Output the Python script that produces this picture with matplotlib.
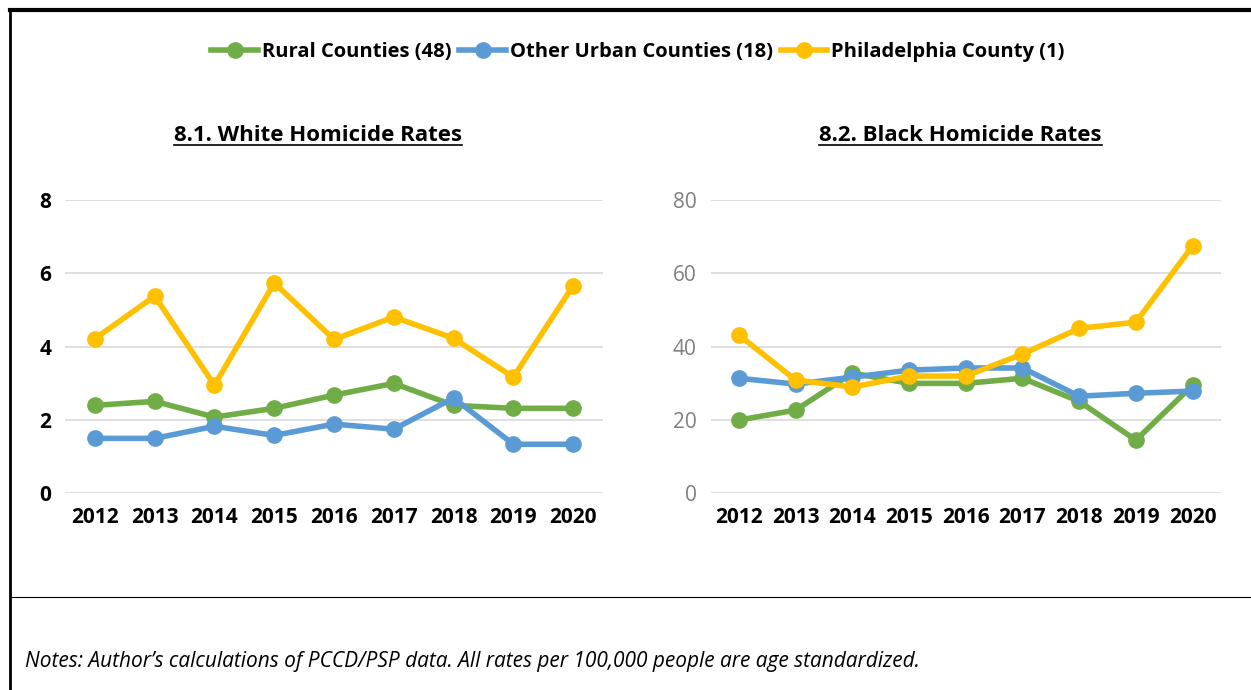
import matplotlib.pyplot as plt
from matplotlib.lines import Line2D

years = ["2012", "2013", "2014", "2015", "2016", "2017", "2018", "2019", "2020"]
series_names = ["Rural Counties (48)", "Other Urban Counties (18)", "Philadelphia County (1)"]
colors = ["#70AD47", "#5B9BD5", "#FFC000"]

white_rural = [2.40, 2.51, 2.08, 2.32, 2.68, 3.00, 2.40, 2.32, 2.32]
white_urban = [1.50, 1.50, 1.83, 1.58, 1.89, 1.75, 2.60, 1.34, 1.34]
white_phila = [4.22, 5.38, 2.95, 5.74, 4.20, 4.81, 4.23, 3.17, 5.66]

black_rural = [20.0, 22.7, 32.8, 30.0, 30.0, 31.4, 25.1, 14.5, 29.5]
black_urban = [31.4, 29.8, 31.7, 33.6, 34.2, 34.2, 26.5, 27.3, 27.9]
black_phila = [43.2, 30.9, 29.0, 32.0, 32.0, 38.0, 45.0, 46.7, 67.5]

plt.rcParams['font.family'] = ['Open Sans', 'DejaVu Sans']
fig = plt.figure(figsize=(12.51, 6.9), dpi=100)

# outer frame and separators
fig.add_artist(Line2D([0.008, 0.008], [0, 0.985], color="black", lw=2))
fig.add_artist(Line2D([0.008, 1.0], [0.985, 0.985], color="black", lw=3))
fig.add_artist(Line2D([0.008, 1.0], [0.135, 0.135], color="black", lw=0.8))
fig.text(0.02, 0.033, "Notes: Author\u2019s calculations of PCCD/PSP data. All rates per 100,000 people are age standardized.",
         fontsize=15, style="italic")

def panel(rect, title, title_x, data, ymax, step, tick_color, bold_ticks):
    ax = fig.add_axes(rect)
    for vals, c in zip(data, colors):
        ax.plot(years, vals, color=c, lw=4, marker="o", markersize=11, solid_capstyle="round")
    ax.set_ylim(0, ymax)
    ax.set_yticks(range(0, ymax + 1, step))
    ax.set_xlim(-0.5, len(years) - 0.5)
    ax.grid(axis="y", color="#D9D9D9", lw=1.2)
    ax.set_axisbelow(True)
    for s in ax.spines.values():
        s.set_visible(False)
    ax.tick_params(length=0, labelsize=15, pad=10)
    for t in ax.get_xticklabels():
        t.set_fontweight("bold")
    for t in ax.get_yticklabels():
        t.set_color(tick_color)
        if bold_ticks:
            t.set_fontweight("bold")
    tt = ax.text(title_x, 1.2, title, transform=ax.transAxes, ha="center", fontsize=16, fontweight="bold")
    return ax, tt

ax1, t1 = panel([0.052, 0.285, 0.43, 0.425], "8.1. White Homicide Rates", 0.47,
                [white_rural, white_urban, white_phila], 8, 2, "black", True)
ax2, t2 = panel([0.568, 0.285, 0.408, 0.425], "8.2. Black Homicide Rates", 0.49,
                [black_rural, black_urban, black_phila], 80, 20, "#7F7F7F", False)

handles = [Line2D([], [], color=c, lw=4, marker="o", markersize=11) for c in colors]
fig.legend(handles, series_names, loc="center", bbox_to_anchor=(0.51, 0.925), ncol=3, frameon=False,
           prop={"weight": "bold", "size": 14.5}, handlelength=2.3, columnspacing=0.4, handletextpad=0.2)

# underline the panel titles
fig.canvas.draw()
inv = fig.transFigure.inverted()
for t in (t1, t2):
    bb = t.get_window_extent().transformed(inv)
    fig.add_artist(Line2D([bb.x0, bb.x1], [bb.y0 + 0.002, bb.y0 + 0.002], color="black", lw=1.2))

fig.savefig("out.png", dpi=100)
